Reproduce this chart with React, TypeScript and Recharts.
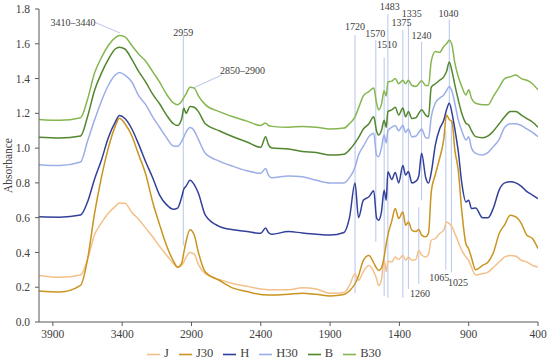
import React from "react";
import {
  LineChart,
  Line,
  XAxis,
  YAxis,
  Legend,
  ReferenceLine,
  ReferenceDot,
} from "recharts";

const WAVENUMBER = [
  4000, 3850, 3700, 3650, 3600, 3550, 3500, 3450, 3420, 3380,
  3330, 3280, 3230, 3180, 3130, 3080, 3030, 3000, 2970, 2955,
  2940, 2910, 2880, 2850, 2800, 2700, 2600, 2500, 2400, 2365,
  2345, 2320, 2200, 2100, 2000, 1900, 1800, 1760, 1720, 1695,
  1660, 1620, 1585, 1565, 1550, 1530, 1510, 1495, 1483, 1455,
  1430, 1405, 1375, 1355, 1335, 1310, 1280, 1260, 1240, 1210,
  1190, 1170, 1140, 1110, 1080, 1060, 1040, 1020, 1000, 975,
  950, 920, 900, 880, 850, 800, 760, 720, 680, 640,
  600, 560, 520, 480, 440, 400,
];

const J = [
  0.268, 0.257, 0.27, 0.36, 0.5, 0.57, 0.625, 0.665, 0.685, 0.683,
  0.63, 0.59, 0.54, 0.49, 0.435, 0.385, 0.336, 0.315, 0.325, 0.345,
  0.37, 0.4, 0.39, 0.33, 0.278, 0.245, 0.22, 0.205, 0.19, 0.187,
  0.186, 0.185, 0.185, 0.197, 0.19, 0.165, 0.17, 0.21, 0.278, 0.24,
  0.29, 0.325, 0.29, 0.25, 0.21, 0.24, 0.355, 0.29, 0.35, 0.345,
  0.374, 0.36, 0.383, 0.355, 0.374, 0.355, 0.36, 0.412, 0.385, 0.374,
  0.39, 0.47, 0.48, 0.509, 0.528, 0.575, 0.566, 0.547, 0.509, 0.46,
  0.412, 0.374, 0.355, 0.316, 0.27, 0.278, 0.287, 0.316, 0.345, 0.374,
  0.383, 0.378, 0.355, 0.345, 0.326, 0.316,
];

const J30 = [
  0.178, 0.172, 0.21, 0.36, 0.62, 0.83, 1.0, 1.125, 1.172, 1.14,
  1.07, 0.96, 0.85, 0.69, 0.56, 0.44, 0.35, 0.315, 0.34, 0.4,
  0.46, 0.53, 0.5, 0.4, 0.287, 0.24, 0.195, 0.175, 0.158, 0.156,
  0.155, 0.155, 0.16, 0.166, 0.159, 0.15, 0.158, 0.18, 0.22, 0.265,
  0.355, 0.383, 0.34, 0.31, 0.297, 0.31, 0.374, 0.45, 0.5, 0.58,
  0.653, 0.595, 0.633, 0.556, 0.575, 0.528, 0.52, 0.532, 0.5, 0.49,
  0.51, 0.75, 0.85, 0.94, 1.05, 1.19, 1.165, 1.15, 0.99, 0.87,
  0.64, 0.45, 0.42, 0.37, 0.3, 0.326, 0.345, 0.403, 0.509, 0.56,
  0.614, 0.604, 0.566, 0.499, 0.48, 0.422,
];

const H = [
  0.605, 0.603, 0.615, 0.69, 0.82, 0.93, 1.06, 1.15, 1.187, 1.17,
  1.11, 1.02, 0.92, 0.83, 0.73, 0.675, 0.648, 0.655, 0.72, 0.765,
  0.78, 0.815, 0.79, 0.74, 0.615, 0.55, 0.53, 0.52, 0.51, 0.54,
  0.515, 0.505, 0.52, 0.512, 0.505, 0.5, 0.515, 0.6, 0.8, 0.6,
  0.7, 0.72, 0.755, 0.6, 0.585, 0.63, 0.758, 0.7, 0.864, 0.82,
  0.86, 0.8, 0.9, 0.845, 0.865, 0.8, 0.81, 0.84, 0.97, 0.83,
  0.8, 0.86, 1.02, 1.11, 1.16, 1.22, 1.258, 1.2, 1.11, 0.98,
  0.8, 0.69, 0.7, 0.653, 0.655, 0.6, 0.6, 0.66, 0.76, 0.8,
  0.806, 0.8, 0.78, 0.75, 0.73, 0.71,
];

const H30 = [
  0.905, 0.9, 0.92, 1.04, 1.16, 1.27, 1.36, 1.42, 1.435, 1.42,
  1.38, 1.3, 1.25, 1.18, 1.12, 1.06, 1.012, 1.01, 1.04, 1.065,
  1.09, 1.118, 1.1, 1.05, 0.97, 0.925, 0.895, 0.87, 0.855, 0.883,
  0.845, 0.83, 0.84, 0.835, 0.815, 0.8, 0.8, 0.83, 0.89, 0.96,
  1.01, 1.066, 1.085, 0.96, 0.95, 1.0, 1.075, 1.03, 1.1, 1.12,
  1.13, 1.1, 1.13, 1.09, 1.11, 1.065, 1.07, 1.09, 1.11, 1.06,
  1.056, 1.18, 1.26, 1.287, 1.306, 1.33, 1.354, 1.325, 1.258, 1.162,
  1.1, 1.047, 1.066, 1.0, 0.97, 0.96, 0.975, 1.01, 1.05, 1.12,
  1.14, 1.14, 1.13, 1.11, 1.09, 1.066,
];

const B = [
  1.062, 1.058, 1.07, 1.18, 1.33, 1.43, 1.51, 1.57, 1.58, 1.57,
  1.51, 1.44, 1.38, 1.31, 1.255, 1.19, 1.14, 1.13, 1.17, 1.23,
  1.2, 1.24, 1.235, 1.21, 1.14, 1.1, 1.065, 1.035, 1.005, 1.066,
  1.02, 1.0, 0.995, 0.98, 0.975, 0.96, 0.965, 0.99, 1.03, 1.06,
  1.11, 1.14, 1.18, 1.1, 1.075, 1.1, 1.16, 1.12, 1.21, 1.22,
  1.235, 1.19, 1.23, 1.18, 1.21, 1.17, 1.175, 1.2, 1.22, 1.19,
  1.18, 1.35, 1.37, 1.39, 1.41, 1.44, 1.495, 1.44, 1.364, 1.277,
  1.2, 1.143, 1.133, 1.1, 1.066, 1.06, 1.07, 1.1, 1.14, 1.18,
  1.21, 1.21, 1.19, 1.17, 1.15, 1.12,
];

const B30 = [
  1.165, 1.16, 1.175, 1.28, 1.43, 1.52, 1.59, 1.635, 1.648, 1.64,
  1.59, 1.54, 1.5, 1.44, 1.38, 1.31, 1.26, 1.25, 1.27, 1.29,
  1.31, 1.35, 1.345, 1.3, 1.25, 1.21, 1.18, 1.155, 1.13, 1.145,
  1.13, 1.125, 1.12, 1.125, 1.12, 1.11, 1.115, 1.14, 1.18, 1.23,
  1.3, 1.325, 1.345, 1.26, 1.22, 1.25, 1.33, 1.3, 1.38, 1.385,
  1.4, 1.37, 1.39, 1.37, 1.39, 1.36, 1.355, 1.37, 1.387, 1.36,
  1.36, 1.5, 1.555, 1.55, 1.585, 1.6, 1.62, 1.59, 1.49, 1.41,
  1.354, 1.306, 1.335, 1.287, 1.258, 1.25, 1.25, 1.3, 1.35, 1.4,
  1.41, 1.42, 1.4, 1.39, 1.37, 1.335,
];

const X_TICKS = [3900, 3400, 2900, 2400, 1900, 1400, 900, 400];
const Y_TICKS = [0, 0.2, 0.4, 0.6, 0.8, 1.0, 1.2, 1.4, 1.6, 1.8];

const SERIES = [
  { name: "J", values: J, color: "#F4C08A" },
  { name: "J30", values: J30, color: "#C9941F" },
  { name: "H", values: H, color: "#33409A" },
  { name: "H30", values: H30, color: "#9CAEE6" },
  { name: "B", values: B, color: "#52862F" },
  { name: "B30", values: B30, color: "#86B64F" },
];
const ORDER = SERIES.map((s) => s.name);

// band markers: wavenumber, lower and upper absorbance of the drawn line
const BANDS = [
  { at: 2959, from: 0.44, to: 1.65 },
  { at: 1720, from: 0.165, to: 1.65 },
  { at: 1570, from: 0.46, to: 1.62 },
  { at: 1510, from: 0.15, to: 1.52 },
  { at: 1483, from: 0.14, to: 1.77 },
  { at: 1375, from: 0.14, to: 1.68 },
  { at: 1335, from: 0.19, to: 1.74 },
  { at: 1240, from: 0.7, to: 1.61 },
  { at: 1040, from: 1.25, to: 1.74 },
  { at: 1260, from: 0.22, to: 0.66 },
  { at: 1065, from: 0.3, to: 1.1 },
  { at: 1025, from: 0.285, to: 1.15 },
];

// text annotations (centre of the text, in axis units)
const NOTES = [
  { text: "3410\u20133440", at: 3755, y: 1.724 },
  { text: "2959", at: 2959, y: 1.665 },
  { text: "2850\u20132900", at: 2532, y: 1.445 },
  { text: "1720", at: 1720, y: 1.7 },
  { text: "1570", at: 1575, y: 1.662 },
  { text: "1510", at: 1490, y: 1.598 },
  { text: "1483", at: 1470, y: 1.812 },
  { text: "1375", at: 1385, y: 1.72 },
  { text: "1335", at: 1310, y: 1.772 },
  { text: "1240", at: 1240, y: 1.648 },
  { text: "1040", at: 1045, y: 1.773 },
  { text: "1260", at: 1252, y: 0.164 },
  { text: "1065", at: 1112, y: 0.257 },
  { text: "1025", at: 977, y: 0.23 },
];

// leader lines from a note to its peak
const LEADERS = [
  { x1: 3596, y1: 1.723, x2: 3416, y2: 1.662 },
  { x1: 2682, y1: 1.42, x2: 2887, y2: 1.346 },
];

const rows = WAVENUMBER.map((w, i) => {
  const row: Record<string, number> = { w };
  SERIES.forEach((s) => {
    row[s.name] = s.values[i];
  });
  return row;
});

const MARK = "#B8C6EC";
const FONT = "Liberation Serif";

export default function App() {
  return (
    <div style={{ position: "absolute", left: 0, top: 0, fontFamily: FONT }}>
      <LineChart
        width={550}
        height={361}
        data={rows}
        margin={{ top: 9, right: 12, bottom: 0, left: 0 }}
        style={{ fontFamily: FONT }}
      >
        <XAxis
          dataKey="w"
          type="number"
          domain={[400, 4000]}
          reversed
          ticks={X_TICKS}
          allowDataOverflow
          height={23}
          tickSize={4}
          tickMargin={4}
          stroke="#595959"
          tick={{ fill: "#404040", fontSize: 11.5, style: { fontFamily: FONT } }}
        />
        <YAxis
          type="number"
          domain={[0, 1.8]}
          ticks={Y_TICKS}
          width={39}
          tickSize={4}
          tickMargin={5}
          stroke="#595959"
          tickFormatter={(v: number) => v.toFixed(1)}
          tick={{ fill: "#404040", fontSize: 11.5, style: { fontFamily: FONT } }}
          label={{
            value: "Absorbance",
            angle: -90,
            position: "insideLeft",
            offset: 8,
            style: { fill: "#404040", fontSize: 11.5, fontFamily: FONT, textAnchor: "middle" },
          }}
        />
        {BANDS.map((b) => (
          <ReferenceLine
            key={"b" + b.at}
            segment={[
              { x: b.at, y: b.from },
              { x: b.at, y: b.to },
            ]}
            stroke={MARK}
            strokeWidth={1}
          />
        ))}
        {LEADERS.map((l, i) => (
          <ReferenceLine
            key={"l" + i}
            segment={[
              { x: l.x1, y: l.y1 },
              { x: l.x2, y: l.y2 },
            ]}
            stroke={MARK}
            strokeWidth={1}
          />
        ))}
        {SERIES.map((s) => (
          <Line
            key={s.name}
            dataKey={s.name}
            name={s.name}
            type="monotone"
            stroke={s.color}
            strokeWidth={1.5}
            dot={false}
            isAnimationActive={false}
          />
        ))}
        {NOTES.map((n) => (
          <ReferenceDot
            key={"n" + n.text}
            x={n.at}
            y={n.y}
            r={0}
            fill="none"
            stroke="none"
            ifOverflow="visible"
            label={{
              value: n.text,
              position: "center",
              fill: "#404040",
              fontSize: 10,
              style: { fontFamily: FONT },
            }}
          />
        ))}
        <Legend
          verticalAlign="bottom"
          align="center"
          height={16}
          iconType="plainline"
          iconSize={13}
          itemSorter={(item: any) => ORDER.indexOf(item.value)}
          wrapperStyle={{ fontSize: 12.5, fontFamily: FONT, lineHeight: "16px" }}
          formatter={(value: string) => (
            <span style={{ color: "#404040", fontFamily: FONT }}>{value}</span>
          )}
        />
      </LineChart>
    </div>
  );
}
